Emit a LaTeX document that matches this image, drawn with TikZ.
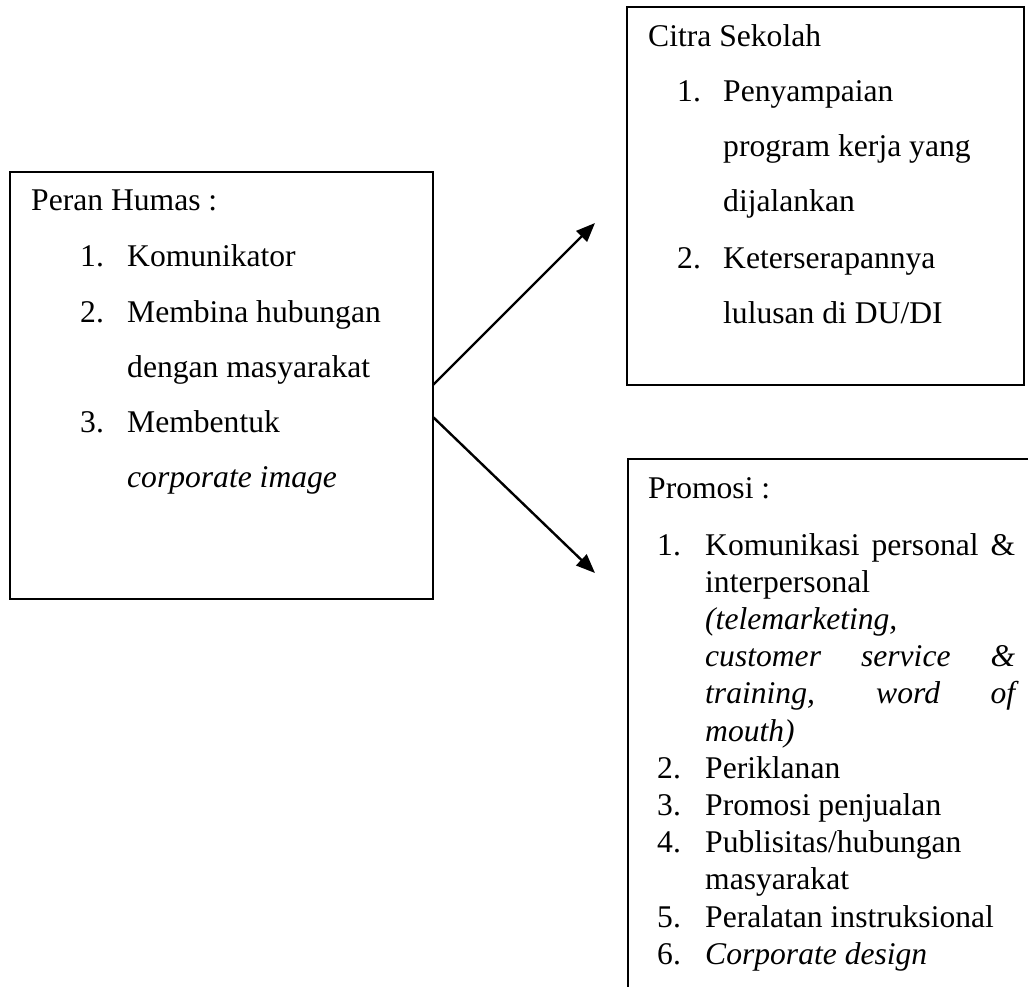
\documentclass[tikz,border=0pt]{standalone}
\usepackage{fontspec}
\setmainfont{Liberation Serif}
\usetikzlibrary{arrows.meta}
\begin{document}
\begin{tikzpicture}[x=1pt,y=-1pt,
  txt/.style={anchor=base west,inner sep=0pt,font=\fontsize{31.6}{37}\selectfont},
  boxline/.style={draw=black,line width=2.2pt},
  conn/.style={line width=2.4pt,-{Triangle[length=19pt,width=15pt]}}]
\useasboundingbox (0,0) rectangle (1028,987);
% boxes
\node[boxline,anchor=north west,minimum width=423pt,minimum height=427pt,inner sep=0pt,outer sep=0pt] (humas) at (10,172) {};
\node[boxline,anchor=north west,minimum width=397pt,minimum height=378pt,inner sep=0pt,outer sep=0pt] (citra) at (627,7) {};
\coordinate (promTR) at (1028,459);
\coordinate (promTL) at (628,459);
\coordinate (promBL) at (628,987);
\draw[boxline] (promTR) -- (promTL) -- (promBL);
% connectors
\coordinate (tipA) at (595,223);
\coordinate (tipB) at (595,573);
\draw[conn] ([yshift=0.5pt]humas.east) -- (tipA);
\draw[conn] ([yshift=-31.5pt]humas.east) -- (tipB);
% left box text
\node[txt] (h0) at (31,211) {Peran Humas :};
\node[txt] (h1n) at (80,266) {1.};
\node[txt] (h1) at (127,266) {Komunikator};
\node[txt] (h2n) at (80,322) {2.};
\node[txt] (h2) at (127,322) {Membina hubungan};
\node[txt] (h2b) at (127,377) {dengan masyarakat};
\node[txt] (h3n) at (80,432) {3.};
\node[txt] (h3) at (127,432) {Membentuk};
\node[txt] (h3b) at (127,487) {\itshape corporate image};
% top right box text
\node[txt] (c0) at (648,47) {Citra Sekolah};
\node[txt] (c1n) at (677,102) {1.};
\node[txt] (c1) at (723,102) {Penyampaian};
\node[txt] (c1b) at (723,157) {program kerja yang};
\node[txt] (c1c) at (723,212) {dijalankan};
\node[txt] (c2n) at (677,268) {2.};
\node[txt] (c2) at (723,268) {Keterserapannya};
\node[txt] (c2b) at (723,323) {lulusan di DU/DI};
% bottom right box text
\node[txt] (p0) at (648,498) {Promosi :};
\node[txt] (p1n) at (657,555) {1.};
\node[txt] (p1) at (705,555) {\makebox[310pt][s]{Komunikasi personal \&}};
\node[txt] (p1b) at (705,592.2) {interpersonal};
\node[txt] (p1c) at (705,629.4) {\itshape (telemarketing,};
\node[txt] (p1d) at (705,666.6) {\itshape\makebox[310pt][s]{customer service \&}};
\node[txt] (p1e) at (705,703.8) {\itshape\makebox[310pt][s]{training, word of}};
\node[txt] (p1f) at (705,741) {\itshape mouth)};
\node[txt] (p2n) at (657,778.2) {2.};
\node[txt] (p2) at (705,778.2) {Periklanan};
\node[txt] (p3n) at (657,815.4) {3.};
\node[txt] (p3) at (705,815.4) {Promosi penjualan};
\node[txt] (p4n) at (657,852.6) {4.};
\node[txt] (p4) at (705,852.6) {Publisitas/hubungan};
\node[txt] (p4b) at (705,889.8) {masyarakat};
\node[txt] (p5n) at (657,927) {5.};
\node[txt] (p5) at (705,927) {Peralatan instruksional};
\node[txt] (p6n) at (657,964.2) {6.};
\node[txt] (p6) at (705,964.2) {\itshape Corporate design};
\end{tikzpicture}
\end{document}
